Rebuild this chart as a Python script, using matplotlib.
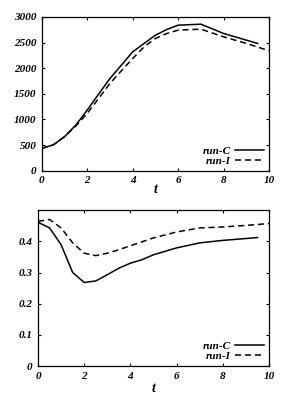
import matplotlib
matplotlib.use("Agg")
import matplotlib.pyplot as plt

# top panel
t_top_c = [0, 0.5, 1, 1.5, 2, 2.5, 3, 3.5, 4, 4.5, 5, 5.5, 6, 7, 8, 9, 9.5]
y_top_c = [440, 505, 667, 894, 1186, 1497, 1801, 2060, 2320, 2482, 2643, 2754, 2838, 2857, 2676, 2546, 2482]
t_top_i = [0, 0.5, 1, 1.5, 2, 2.5, 3, 3.5, 4, 4.5, 5, 5.5, 6, 7, 8, 9, 10]
y_top_i = [440, 505, 667, 875, 1121, 1413, 1704, 1950, 2190, 2417, 2579, 2676, 2741, 2760, 2611, 2482, 2339]

# bottom panel
t_bot_c = [0, 0.5, 1, 1.5, 2, 2.5, 3, 3.5, 4, 4.5, 5, 5.5, 6, 7, 8, 9, 9.5]
y_bot_c = [0.461, 0.443, 0.389, 0.300, 0.268, 0.273, 0.293, 0.314, 0.330, 0.341,
           0.357, 0.368, 0.379, 0.395, 0.403, 0.409, 0.412]
t_bot_i = [0, 0.5, 1, 1.5, 2, 2.5, 3, 3.5, 4, 5, 6, 7, 8, 9, 10]
y_bot_i = [0.464, 0.470, 0.443, 0.395, 0.362, 0.354, 0.362, 0.373, 0.386,
           0.411, 0.430, 0.443, 0.446, 0.451, 0.457]

font = dict(family="Liberation Serif", weight="bold", style="italic")
FP = matplotlib.font_manager.FontProperties

fig = plt.figure(figsize=(2.97, 4.01), dpi=100)
ax1 = fig.add_axes([0.141, 0.574, 0.765, 0.384])
ax2 = fig.add_axes([0.128, 0.087, 0.778, 0.389])


def style(ax, yticks, ylim, labelpad):
    ax.set_xlim(0, 10)
    ax.set_ylim(*ylim)
    ax.set_xticks([0, 2, 4, 6, 8, 10])
    ax.set_yticks(yticks)
    ax.tick_params(direction="in", length=2.5, width=0.8, top=True, right=True, pad=4)
    for s in ax.spines.values():
        s.set_linewidth(0.9)
    ax.set_xlabel("t", fontsize=10, labelpad=labelpad, **font)


ax1.plot(t_top_c, y_top_c, color="k", lw=1.1, label="run-C")
ax1.plot(t_top_i, y_top_i, color="k", lw=1.1, ls=(0, (4, 2.5)), label="run-I")
style(ax1, [0, 500, 1000, 1500, 2000, 2500, 3000], (0, 3000), -2)

ax2.plot(t_bot_c, y_bot_c, color="k", lw=1.1, label="run-C")
ax2.plot(t_bot_i, y_bot_i, color="k", lw=1.1, ls=(0, (4, 2.5)), label="run-I")
style(ax2, [0, 0.1, 0.2, 0.3, 0.4], (0, 0.5), 1)
ax2.set_yticklabels(["0", "0.1", "0.2", "0.3", "0.4"])

for ax in (ax1, ax2):
    for lab in ax.get_xticklabels() + ax.get_yticklabels():
        lab.set_fontproperties(FP(size=8, **font))
    ax.legend(loc="lower right", frameon=False, handlelength=2.6, handletextpad=0.4,
              markerfirst=False, borderaxespad=0.05, labelspacing=0.0,
              prop=FP(size=8, **font))

fig.savefig("out.png", dpi=100)
